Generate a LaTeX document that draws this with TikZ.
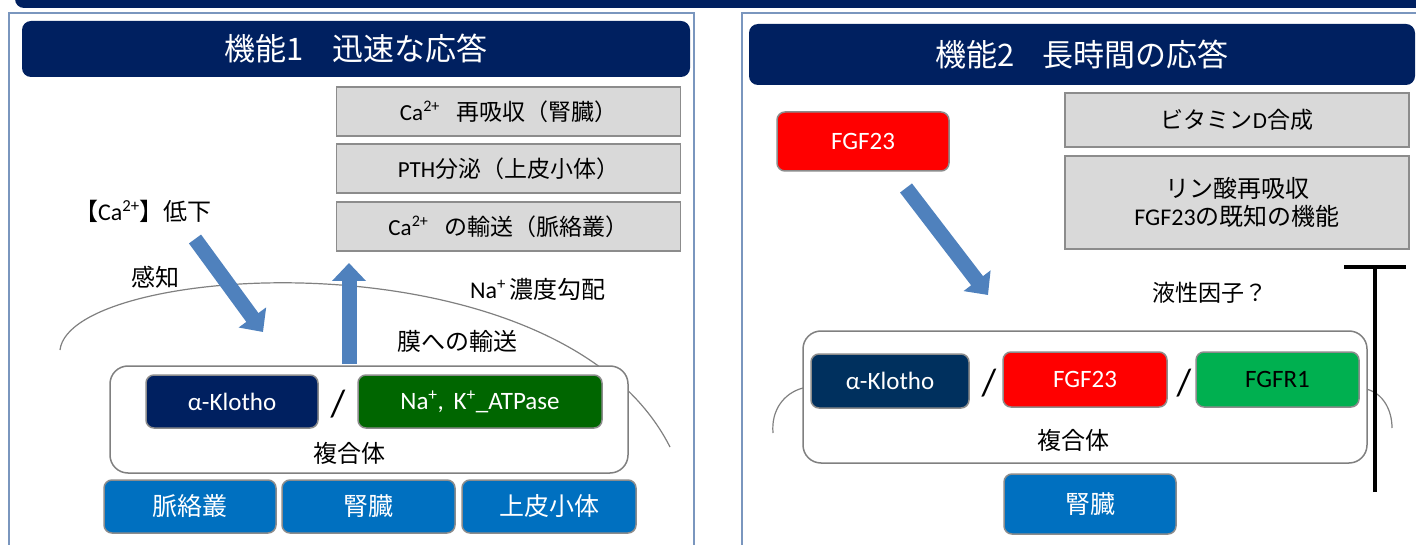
\documentclass[tikz,border=0pt]{standalone}
\usepackage{fontspec}
\setmainfont{Noto Sans CJK JP}
\newfontfamily\lat{Carlito}
\usetikzlibrary{arrows.meta}
\definecolor{navy}{HTML}{002060}
\definecolor{navyb}{HTML}{00305E}
\definecolor{dgreen}{HTML}{006600}
\definecolor{lgreen}{HTML}{00B050}
\definecolor{mblue}{HTML}{0070C0}
\definecolor{arrowblue}{HTML}{4F81BD}
\definecolor{lgray}{HTML}{D9D9D9}
\definecolor{bgray}{HTML}{8C8C8C}
\definecolor{framec}{HTML}{7A96BE}
\newcommand{\fsz}[1]{\fontsize{#1pt}{#1pt}\selectfont}
\begin{document}
\begin{tikzpicture}[x=1pt,y=-1pt,
  titlebar/.style={fill=navy, rounded corners=9pt, text=white, font=\fsz{31}, inner sep=0pt},
  graybox/.style={draw=bgray, fill=lgray, line width=1.5pt, inner sep=0pt, minimum width=344pt, font=\fsz{23}, align=center},
  cbox/.style={draw=bgray, line width=1.5pt, rounded corners=8pt, inner sep=0pt, text=white},
  cplx/.style={draw=gray, fill=white, line width=1.5pt, rounded corners=18pt, inner sep=0pt},
  lbl/.style={inner sep=0pt, font=\fsz{24}},
  slash/.style={inner sep=0pt, font=\lat\fsz{38}},
  fatarrow/.style={draw=arrowblue, line width=15pt, -{Triangle[width=33pt,length=18pt]}},
  arcline/.style={draw=gray, line width=1.2pt},
  inhibit/.style={draw=black, line width=4pt, -{Bar[width=62pt]}},
  frame/.style={draw=framec, line width=1.5pt}
]
\useasboundingbox (0,0) rectangle (1416,545);
\clip (0,0) rectangle (1416,545);
% top banner
\fill[navy, rounded corners=9pt] (15,-20) rectangle (1440,8);
% frames
\draw[frame] (9,13) rectangle (694,570);
\draw[frame] (742,13) rectangle (1440,570);

% ===== Left panel =====
\node[titlebar, minimum width=668pt, minimum height=56pt] (t1) at (356,49) {機能1\hspace{0.9em}迅速な応答};
\node[graybox, minimum height=49pt] (g1) at (508.5,111.5) {{\lat Ca\textsuperscript{2+}}\hspace{0.7em}再吸収（腎臓）};
\node[graybox, minimum height=49pt] (g2) at (508.5,168.5) {{\lat PTH}分泌（上皮小体）};
\node[graybox, minimum height=49pt] (g3) at (508.5,226.5) {{\lat Ca\textsuperscript{2+}}\hspace{0.7em}の輸送（脈絡叢）};
\node[lbl] (calow) at (143,211) {【{\lat Ca\textsuperscript{2+}}】低下};
\node[lbl] (kanchi) at (155,277) {感知};
\node[lbl] (nagrad) at (538,289) {{\lat Na\textsuperscript{+}}\,濃度勾配};

% membrane arc
\path[arcline] (60,350) .. controls (70,262) and (560,230) .. (670,447);

\node[lbl] (maku) at (457,341) {膜への輸送};
\node[cplx, minimum width=518pt, minimum height=107pt] (c1) at (369,419.5) {};
\node[cbox, fill=navy, minimum width=172pt, minimum height=53pt, font=\lat\fsz{25}] (k1) at (232,401.5) {α-Klotho};
\node[slash] (s1) at (338,404) {/};
\node[cbox, fill=dgreen, minimum width=244pt, minimum height=53pt, font=\lat\fsz{25}] (nak) at (480,401.5) {Na\textsuperscript{+}, \,K\textsuperscript{+}\_ATPase};
\node[lbl] (fk1) at (349,453) {複合体};
\node[cbox, fill=mblue, minimum width=172pt, minimum height=53pt, font=\fsz{25}] (b1) at (190,506.5) {脈絡叢};
\node[cbox, fill=mblue, minimum width=173pt, minimum height=53pt, font=\fsz{25}] (b2) at (368.5,506.5) {腎臓};
\node[cbox, fill=mblue, minimum width=174pt, minimum height=53pt, font=\fsz{25}] (b3) at (549,506.5) {上皮小体};

\coordinate (a1s) at (195,239);
\coordinate (a1e) at (263,332);
\draw[fatarrow] (a1s) -- (a1e);
\coordinate (a2s) at (349,364);
\coordinate (a2e) at (349,263);
\draw[fatarrow] (a2s) -- (a2e);

% ===== Right panel =====
\node[titlebar, minimum width=666pt, minimum height=61pt] (t2) at (1082,54.5) {機能2\hspace{0.9em}長時間の応答};
\node[cbox, fill=red, minimum width=172pt, minimum height=59pt, font=\lat\fsz{25}] (f1) at (863,141.5) {FGF23};
\node[graybox, minimum height=54pt, font=\fsz{23}] (vd) at (1237,120) {ビタミン{\lat D}合成};
\node[graybox, minimum height=93pt, font=\fsz{24}] (rin) at (1237,202.5) {リン酸再吸収\\[4pt]{\lat FGF23}の既知の機能};
\node[lbl, font=\fsz{23}] (ekisei) at (1210,293) {液性因子？};

\path[arcline] (773,433) .. controls (771,410) and (784,393) .. (803,388);
\path[arcline] (1366,389) .. controls (1383,393) and (1392,410) .. (1392,428);

\node[cplx, minimum width=564pt, minimum height=132pt] (c2) at (1085,397) {};
\node[cbox, fill=navyb, minimum width=158pt, minimum height=54pt, font=\lat\fsz{25}] (k2) at (890,381) {α-Klotho};
\node[slash] (s2) at (989,383) {/};
\node[cbox, fill=red, minimum width=164pt, minimum height=55pt, font=\lat\fsz{25}] (f2) at (1085,379.5) {FGF23};
\node[slash] (s3) at (1184,383) {/};
\node[cbox, fill=lgreen, minimum width=163pt, minimum height=55pt, text=black, font=\lat\fsz{25}] (fr) at (1277.5,379.5) {FGFR1};
\node[lbl] (fk2) at (1073,440) {複合体};
\node[cbox, fill=mblue, minimum width=172pt, minimum height=60pt, font=\fsz{25}] (kid2) at (1090,504) {腎臓};

\coordinate (a3s) at (906,188);
\coordinate (a3e) at (988,295);
\draw[fatarrow] (a3s) -- (a3e);
\coordinate (tb) at (1375,492);
\coordinate (tt) at (1375,265);
\draw[inhibit] (tb) -- (tt);
\end{tikzpicture}
\end{document}
